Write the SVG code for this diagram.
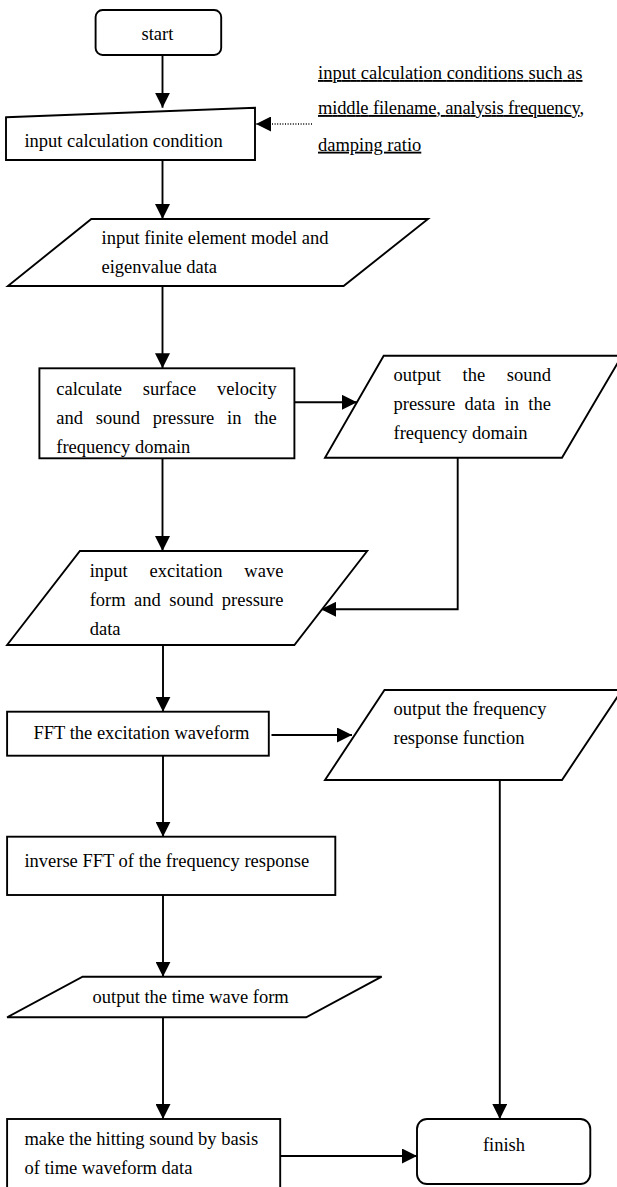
<svg xmlns="http://www.w3.org/2000/svg" width="617" height="1187" viewBox="0 0 617 1187">
<style>
.s{fill:#fff;stroke:#000;stroke-width:1.9}
.t{font-family:"Liberation Serif","Times New Roman",serif;font-size:18.5px;fill:#000}
.c{fill:none;stroke:#000;stroke-width:1.9}
.d{fill:none;stroke:#000;stroke-width:1.3;stroke-dasharray:1 1.6}
</style>
<defs>
<marker id="ah" markerUnits="userSpaceOnUse" viewBox="0 0 15 15" refX="15" refY="7.5" markerWidth="15" markerHeight="15" orient="auto">
<path d="M0,0 L15,7.5 L0,15 z" fill="#000"/>
</marker>
</defs>
<rect width="617" height="1187" fill="#fff"/>
<g id="connectors">
<path class="c" d="M162.5,55 V107.7" marker-end="url(#ah)"/>
<path class="d" d="M312,124 H256" marker-end="url(#ah)"/>
<path class="c" d="M162.5,160 V219" marker-end="url(#ah)"/>
<path class="c" d="M162.5,286 V368.3" marker-end="url(#ah)"/>
<path class="c" d="M294.4,402.3 H357" marker-end="url(#ah)"/>
<path class="c" d="M162.5,458.3 V551" marker-end="url(#ah)"/>
<path class="c" d="M457.7,458 V609.3 H321" marker-end="url(#ah)"/>
<path class="c" d="M163,645 V711.7" marker-end="url(#ah)"/>
<path class="c" d="M271.5,735 H352" marker-end="url(#ah)"/>
<path class="c" d="M163,755.7 V836.7" marker-end="url(#ah)"/>
<path class="c" d="M163,895 V976.7" marker-end="url(#ah)"/>
<path class="c" d="M163,1017.3 V1119" marker-end="url(#ah)"/>
<path class="c" d="M280.2,1156 H417" marker-end="url(#ah)"/>
<path class="c" d="M499.8,780 V1119" marker-end="url(#ah)"/>
</g>
<g id="start">
<rect class="s" x="95.6" y="10" width="125.6" height="45" rx="7"/>
<text class="t" x="157.4" y="40" text-anchor="middle">start</text>
</g>
<g id="note">
<text class="t" x="318" y="79" text-decoration="underline" textLength="264.5" lengthAdjust="spacing">input calculation conditions such as</text>
<text class="t" x="318" y="114" text-decoration="underline" textLength="266" lengthAdjust="spacing">middle filename, analysis frequency,</text>
<text class="t" x="318" y="150.7" text-decoration="underline">damping ratio</text>
</g>
<g id="input-condition">
<polygon class="s" points="6,117.3 255,107.7 255,160 6,160"/>
<text class="t" x="24.4" y="146.7">input calculation condition</text>
</g>
<g id="input-fem">
<polygon class="s" points="91.3,219 428,219 343.6,286 7.9,286"/>
<text class="t" x="101.5" y="244.3">input finite element model and</text>
<text class="t" x="101.5" y="273.3">eigenvalue data</text>
</g>
<g id="calculate">
<rect class="s" x="39.4" y="368.3" width="255" height="90"/>
<text class="t" x="56.3" y="395" style="word-spacing:16.2px">calculate surface velocity</text>
<text class="t" x="56.3" y="424" style="word-spacing:8.1px">and sound pressure in the</text>
<text class="t" x="56.3" y="452.7">frequency domain</text>
</g>
<g id="output-sound">
<polygon class="s" points="383.7,355.7 622,355.7 562,457.7 325,457.7"/>
<text class="t" x="393.5" y="380.7" style="word-spacing:17.1px">output the sound</text>
<text class="t" x="393.5" y="410.3" style="word-spacing:4.7px">pressure data in the</text>
<text class="t" x="393.5" y="439.3">frequency domain</text>
</g>
<g id="input-excitation">
<polygon class="s" points="79.9,551 367.2,551 294.4,645 7.1,645"/>
<text class="t" x="89.7" y="576.7" style="word-spacing:17.2px">input excitation wave</text>
<text class="t" x="89.7" y="606" style="word-spacing:3.8px">form and sound pressure</text>
<text class="t" x="89.7" y="635">data</text>
</g>
<g id="fft">
<rect class="s" x="7.1" y="711.7" width="261.7" height="44"/>
<text class="t" x="33.5" y="739">FFT the excitation waveform</text>
</g>
<g id="output-frf">
<polygon class="s" points="384.5,690 622,690 562,780 325,780"/>
<text class="t" x="393.5" y="715">output the frequency</text>
<text class="t" x="393.5" y="744">response function</text>
</g>
<g id="inverse-fft">
<rect class="s" x="7.1" y="836.7" width="328.2" height="58.3"/>
<text class="t" x="24.4" y="866.7">inverse FFT of the frequency response</text>
</g>
<g id="output-time">
<polygon class="s" points="82.6,976.7 381.7,976.7 306.2,1017.3 7.1,1017.3"/>
<text class="t" x="92.5" y="1002.7">output the time wave form</text>
</g>
<g id="make-sound">
<rect class="s" x="7.1" y="1119" width="273.1" height="75"/>
<text class="t" x="24.4" y="1145">make the hitting sound by basis</text>
<text class="t" x="24.4" y="1174">of time waveform data</text>
</g>
<g id="finish">
<rect class="s" x="417" y="1119" width="173.3" height="65" rx="10"/>
<text class="t" x="504" y="1150.7" text-anchor="middle">finish</text>
</g>
</svg>
